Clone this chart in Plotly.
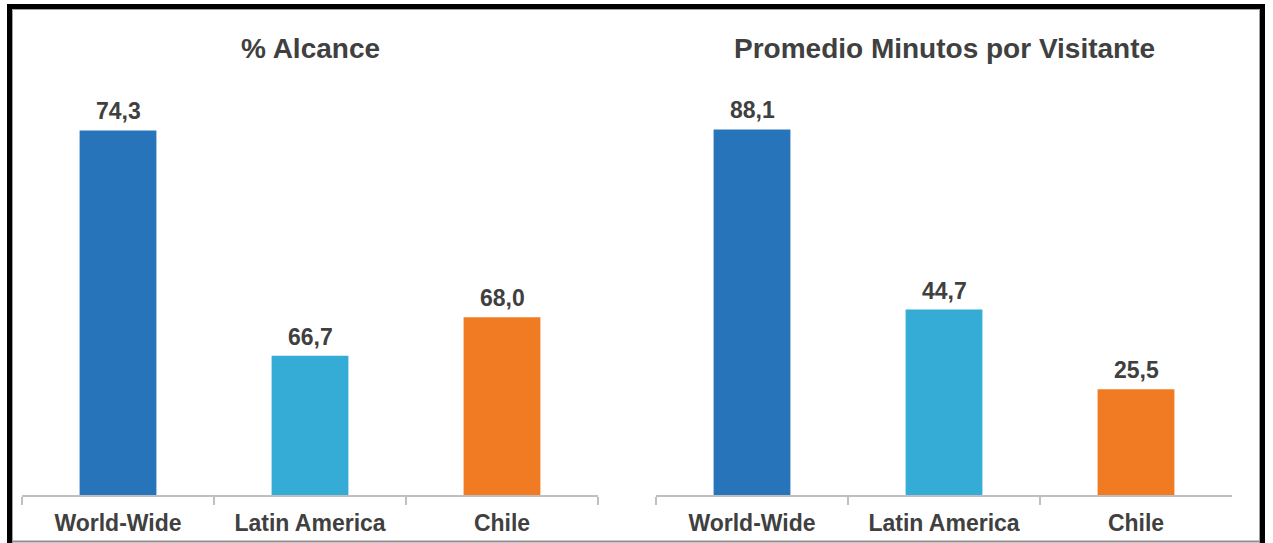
import plotly.graph_objects as go

categories = ["World-Wide", "Latin America", "Chile"]
alcance = [74.3, 66.7, 68.0]
minutos = [88.1, 44.7, 25.5]
titles = ["% Alcance", "Promedio Minutos por Visitante"]
colors = ["#2874BA", "#34ACD6", "#F07B22"]

W, H = 1273, 543
L, R, T, B = 22, 41, 80, 48
PW, PH = W - L - R, H - T - B

def px(x):
    return (x - L) / PW

def py(y):
    return (H - B - y) / PH

fig = go.Figure()
fig.add_trace(go.Bar(x=categories, y=alcance, marker=dict(color=colors, line=dict(width=0)),
                     width=0.4, xaxis="x", yaxis="y", showlegend=False, hoverinfo="x+y"))
fig.add_trace(go.Bar(x=categories, y=minutos, marker=dict(color=colors, line=dict(width=0)),
                     width=0.4, xaxis="x2", yaxis="y2", showlegend=False, hoverinfo="x+y"))

font_family = "Liberation Sans, Arial, sans-serif"
txt_col = "#404040"

xcommon = dict(type="category", range=[-0.5, 2.5], showline=True, linecolor="#BFBFBF", linewidth=2,
               ticks="outside", tickson="boundaries", ticklen=8, tickcolor="#BFBFBF", tickwidth=2,
               showgrid=False, zeroline=False, ticklabelstandoff=6, automargin=False,
               tickfont=dict(family=font_family, size=23, color=txt_col, weight="bold"))
fig.update_layout(
    width=W, height=H, margin=dict(l=L, r=R, t=T, b=B, autoexpand=False),
    paper_bgcolor="white", plot_bgcolor="white",
    separators=",.",
    xaxis=dict(domain=[0, px(598)], anchor="y", **xcommon),
    xaxis2=dict(domain=[px(656), 1], anchor="y2", **xcommon),
    yaxis=dict(range=[62, 76], visible=False, domain=[0, 1], anchor="x", automargin=False),
    yaxis2=dict(range=[0, 100], visible=False, domain=[0, 1], anchor="x2", automargin=False),
    bargap=0.6,
)

annotations = []
for axn, vals in (("", alcance), ("2", minutos)):
    for c, v in zip(categories, vals):
        annotations.append(dict(x=c, y=v, xref="x" + axn, yref="y" + axn, text=f"{v:.1f}".replace(".", ","),
                                showarrow=False, yanchor="bottom", yshift=4,
                                font=dict(family=font_family, size=23, color=txt_col, weight="bold")))
for t, cx in zip(titles, [310, 944]):
    annotations.append(dict(x=px(cx), y=py(48), xref="paper", yref="paper", text=t, showarrow=False,
                            xanchor="center", yanchor="middle",
                            font=dict(family=font_family, size=28, color=txt_col, weight="bold")))
fig.update_layout(annotations=annotations)

shapes = []
def rect(x0, y0, x1, y1, color):
    shapes.append(dict(type="rect", xref="paper", yref="paper", x0=px(x0), x1=px(x1), y0=py(y1), y1=py(y0),
                       fillcolor=color, line=dict(width=0), layer="above"))
def line(x0, y0, x1, y1, color, w=1):
    shapes.append(dict(type="line", xref="paper", yref="paper", x0=px(x0), x1=px(x1), y0=py(y0), y1=py(y1),
                       line=dict(color=color, width=w), layer="above"))

line(12.5, 9.5, 1259.5, 9.5, "#A0A0A0")
line(12.5, 9.5, 12.5, 543, "#A0A0A0")
line(1259.5, 9.5, 1259.5, 543, "#A0A0A0")
line(12, 541.5, 1260, 541.5, "#909090", 2)
rect(7, 4, 1265, 9, "black")
rect(7, 4, 12, 543, "black")
rect(1260, 4, 1265, 543, "black")
fig.update_layout(shapes=shapes)

fig.write_html("out.html", config={"displayModeBar": False},
               post_script="document.body.style.margin='0';")
